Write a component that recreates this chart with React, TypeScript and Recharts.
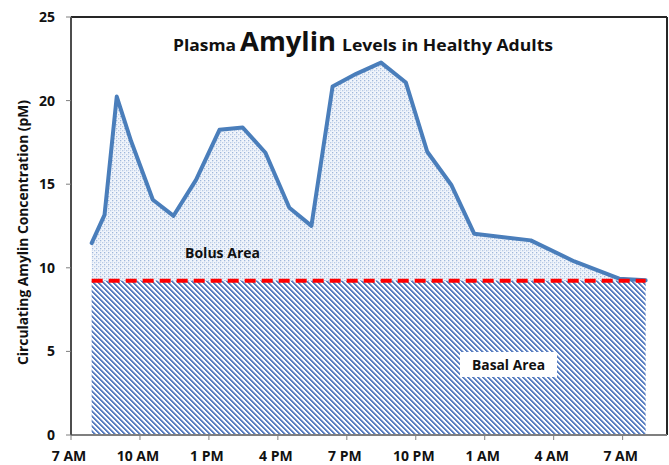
import React from 'react';
import { ComposedChart, Area, Line, XAxis, YAxis, ReferenceLine } from 'recharts';

// hours after 7 AM
const hours = [0.9, 1.46, 1.99, 2.62, 3.56, 4.46, 5.44, 6.46, 7.47, 8.46, 9.5, 10.46, 11.38, 12.41, 13.49, 14.57, 15.5, 16.54, 17.54, 20.0, 21.9, 23.85, 25.0];
const amylin = [11.48, 13.17, 20.24, 17.55, 14.07, 13.11, 15.26, 18.25, 18.39, 16.88, 13.59, 12.51, 20.84, 21.6, 22.27, 21.08, 16.94, 14.97, 12.04, 11.64, 10.38, 9.35, 9.25];
const basalLevel = 9.23;
const tickHours = [0, 3, 6, 9, 12, 15, 18, 21, 24];
const tickLabels = ['7 AM', '10 AM', '1 PM', '4 PM', '7 PM', '10 PM', '1 AM', '4 AM', '7 AM'];
const yTicks = [0, 5, 10, 15, 20, 25];

const rows = hours.map((h, i) => ({ h, amylin: amylin[i], basal: basalLevel }));

const FONT = '"Open Sans", Lato, sans-serif';

const XTick = (props: any) => {
  const { x, y, payload } = props;
  const idx = tickHours.indexOf(payload.value);
  return (
    <text x={x - 2} y={y} dy="0.71em" textAnchor="middle" fontFamily={FONT} fontWeight={700} fontSize={14} fill="#111">
      {idx >= 0 ? tickLabels[idx] : ''}
    </text>
  );
};

const STRIPE = '#5a7fc1';
const STRIPE_SOFT = '#a7bbe0';

export default function App() {
  return (
    <div style={{ position: 'absolute', left: 0, top: 0, width: 669, height: 465, background: '#fff' }}>
      <ComposedChart width={669} height={465} data={rows} margin={{ top: 17, right: 2, bottom: 0, left: 0 }}>
        <defs>
          <pattern id="dots" patternUnits="userSpaceOnUse" width="4" height="4">
            <rect x="0" y="0" width="4" height="4" fill="#f1f5fb" />
            <rect x="0" y="0" width="1.3" height="1.3" fill="#9fb7dc" />
            <rect x="2" y="2" width="1.3" height="1.3" fill="#b9cbe6" />
            <rect x="0" y="2" width="1" height="1" fill="#d3deef" />
          </pattern>
          <pattern id="stripes" patternUnits="userSpaceOnUse" width="5" height="5" shapeRendering="crispEdges">
            <rect x="0" y="0" width="5" height="5" fill="#ffffff" />
            <rect x="0" y="0" width="2" height="1" fill={STRIPE} />
            <rect x="1" y="1" width="2" height="1" fill={STRIPE} />
            <rect x="2" y="2" width="2" height="1" fill={STRIPE} />
            <rect x="3" y="3" width="2" height="1" fill={STRIPE} />
            <rect x="4" y="4" width="1" height="1" fill={STRIPE} />
            <rect x="0" y="4" width="1" height="1" fill={STRIPE} />
            <rect x="2" y="0" width="1" height="1" fill={STRIPE_SOFT} />
            <rect x="3" y="1" width="1" height="1" fill={STRIPE_SOFT} />
            <rect x="4" y="2" width="1" height="1" fill={STRIPE_SOFT} />
            <rect x="0" y="3" width="1" height="1" fill={STRIPE_SOFT} />
            <rect x="1" y="4" width="1" height="1" fill={STRIPE_SOFT} />
          </pattern>
        </defs>
        <XAxis
          dataKey="h"
          type="number"
          domain={[0, 25.93]}
          ticks={tickHours}
          interval={0}
          height={30}
          tickSize={5}
          tickMargin={11}
          tick={<XTick />}
          axisLine={{ stroke: '#7f7f7f', strokeWidth: 2 }}
          tickLine={{ stroke: '#7f7f7f', strokeWidth: 1 }}
        />
        <YAxis
          type="number"
          domain={[0, 25]}
          ticks={yTicks}
          interval={0}
          width={71}
          tickSize={5}
          tickMargin={11}
          tick={{ fontFamily: FONT, fontWeight: 700, fontSize: 14, fill: '#111' }}
          axisLine={{ stroke: '#4d4d4d', strokeWidth: 2 }}
          tickLine={{ stroke: '#7f7f7f', strokeWidth: 1 }}
        />
        <Area dataKey="amylin" type="linear" stroke="none" fill="url(#dots)" fillOpacity={1} isAnimationActive={false} />
        <Area dataKey="basal" type="linear" stroke="none" fill="url(#stripes)" fillOpacity={1} isAnimationActive={false} />
        <Line dataKey="amylin" type="linear" stroke="#4a7ebb" strokeWidth={4} strokeLinejoin="round" strokeLinecap="round" dot={false} activeDot={false} isAnimationActive={false} />
        <Line dataKey="basal" type="linear" stroke="#ff0000" strokeWidth={4} strokeDasharray="11 6" dot={false} activeDot={false} isAnimationActive={false} />
        <ReferenceLine y={25} stroke="#262626" strokeWidth={2} />
        <ReferenceLine x={25.93} stroke="#262626" strokeWidth={2} />
      </ComposedChart>
      <svg width={669} height={465} style={{ position: 'absolute', left: 0, top: 0, pointerEvents: 'none' }}>
        <g fontFamily={FONT} fontWeight={700} fill="#111">
          <text x={173} y={51} fontSize={16} textLength={63} lengthAdjust="spacingAndGlyphs">Plasma</text>
          <text x={240} y={51} fontSize={27} textLength={96} lengthAdjust="spacingAndGlyphs">Amylin</text>
          <text x={342} y={51} fontSize={16} textLength={211} lengthAdjust="spacingAndGlyphs">Levels in Healthy Adults</text>
          <text x={185} y={258} fontSize={14.5} textLength={75} lengthAdjust="spacingAndGlyphs">Bolus Area</text>
          <rect x={460} y={352} width={97} height={25} fill="#ffffff" />
          <text x={472} y={370} fontSize={14.5} textLength={73} lengthAdjust="spacingAndGlyphs">Basal Area</text>
          <text transform="translate(28,232.5) rotate(-90)" textAnchor="middle" fontSize={13.5} textLength={265} lengthAdjust="spacingAndGlyphs">Circulating Amylin Concentration (pM)</text>
        </g>
      </svg>
    </div>
  );
}
